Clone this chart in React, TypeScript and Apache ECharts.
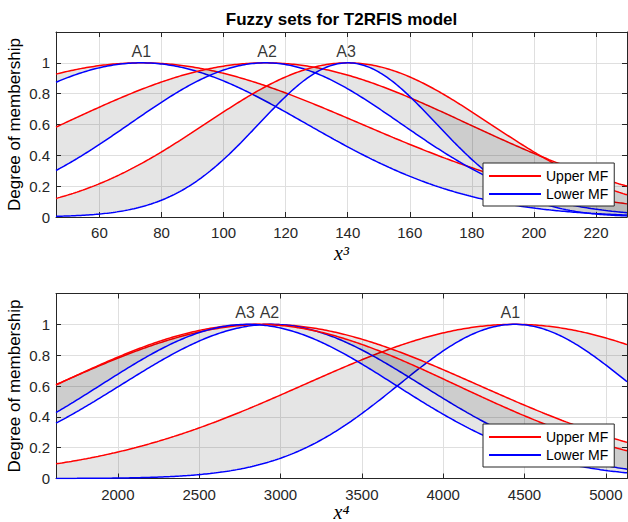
import React, { useEffect, useRef } from 'react';
import * as echarts from 'echarts';

// ---------- data ----------
const setNames = ['A1', 'A2', 'A3'];

// Top panel (x^3): Gaussian MF parameters (centre, sigma)
const topXRange = [46, 230];
const topXTicks = [60, 80, 100, 120, 140, 160, 180, 200, 220];
const topUpperCenter = [73.5, 113.5, 140];
const topUpperSigma = [70.5, 65, 45.7];
const topLowerCenter = [73.5, 113.5, 140];
const topLowerSigma = [53, 43.6, 28.5];
const topLabelX = [73.5, 114, 139.5];

// Bottom panel (x^4)
const botXRange = [1620, 5130];
const botXTicks = [2000, 2500, 3000, 3500, 4000, 4500, 5000];
const botUpperCenter = [4440, 2915, 2850];
const botUpperSigma = [1300, 1300, 1230];
const botLowerCenter = [4440, 2943, 2801];
const botLowerSigma = [715, 924, 906];
const botLabelX = [4413, 2932, 2782];

const yRange = [0, 1.2];

// ---------- styling ----------
const RED = '#ff0000';
const BLUE = '#0000ff';
const AX = '#262626';
const GRIDC = '#dfdfdf';
const FONT = '"Liberation Sans", Arial, Helvetica, sans-serif';
const SERIF = '"Liberation Serif", "DejaVu Serif", serif';
const N = 300;

function gauss(x: number, c: number, s: number) {
  return Math.exp(-((x - c) * (x - c)) / (2 * s * s));
}

function buildPanel(
  gi: number,
  range: number[],
  uc: number[],
  us: number[],
  lc: number[],
  ls: number[],
  labelX: number[]
) {
  const xi = gi * 2;
  const series: any[] = [];
  const xs: number[] = [];
  for (let k = 0; k <= N; k++) xs.push(range[0] + ((range[1] - range[0]) * k) / N);
  setNames.forEach((nm, i) => {
    const upper = xs.map((x) => [x, gauss(x, uc[i], us[i])]);
    const lower = xs.map((x) => [x, gauss(x, lc[i], ls[i])]);
    const z = 2 + i * 3;
    series.push({
      type: 'custom', name: 'band' + gi + nm, xAxisIndex: xi, yAxisIndex: xi,
      silent: true, z, clip: true,
      data: [[uc[i], 1]],
      renderItem: (_p: any, api: any) => {
        const pts: number[][] = [];
        upper.forEach((d) => pts.push(api.coord(d)));
        for (let k = lower.length - 1; k >= 0; k--) pts.push(api.coord(lower[k]));
        return {
          type: 'polygon',
          shape: { points: pts },
          style: { fill: 'rgba(0,0,0,0.1)', stroke: 'none' },
        };
      },
    });
    series.push({
      type: 'line', name: 'Upper MF', xAxisIndex: xi, yAxisIndex: xi,
      data: upper, symbol: 'none', silent: true, z: z + 1, color: RED,
      lineStyle: { color: RED, width: 1.5 },
    });
    series.push({
      type: 'line', name: 'Lower MF', xAxisIndex: xi, yAxisIndex: xi,
      data: lower, symbol: 'none', silent: true, z: z + 1, color: BLUE,
      lineStyle: { color: BLUE, width: 1.5 },
    });
  });
  series.push({
    type: 'scatter', name: 'labels' + gi, xAxisIndex: xi, yAxisIndex: xi,
    symbolSize: 1, z: 20, silent: true,
    itemStyle: { color: 'rgba(0,0,0,0)' },
    data: setNames.map((nm, i) => ({ value: [labelX[i], 1], name: nm })),
    label: {
      show: true, position: 'top', distance: 3, formatter: '{b}',
      fontSize: 16, color: '#000', fontFamily: FONT,
    },
  });
  return series;
}

function axesFor(gi: number, range: number[], ticks: number[]) {
  const xMain = {
    type: 'value', gridIndex: gi, min: range[0], max: range[1], position: 'bottom',
    axisLine: { show: true, onZero: false, lineStyle: { color: AX, width: 1 } },
    axisTick: { show: true, inside: true, length: 5, customValues: ticks, lineStyle: { color: AX } },
    axisLabel: {
      show: true, customValues: ticks, margin: 8, fontSize: 15, color: AX, fontFamily: FONT,
      formatter: (v: number) => String(v),
    },
    splitLine: { show: true, lineStyle: { color: GRIDC, width: 1 } },
  };
  const xBox = {
    type: 'value', gridIndex: gi, min: range[0], max: range[1], position: 'top',
    axisLine: { show: true, onZero: false, lineStyle: { color: AX, width: 1 } },
    axisTick: { show: true, inside: true, length: 5, customValues: ticks, lineStyle: { color: AX } },
    axisLabel: { show: false },
    splitLine: { show: false },
  };
  const yMain = {
    type: 'value', gridIndex: gi, min: yRange[0], max: yRange[1], interval: 0.2, position: 'left',
    axisLine: { show: true, onZero: false, lineStyle: { color: AX, width: 1 } },
    axisTick: { show: true, inside: true, length: 5, lineStyle: { color: AX } },
    axisLabel: {
      show: true, margin: 6, fontSize: 15, color: AX, fontFamily: FONT,
      formatter: (v: number) => (v > 1.05 ? '' : String(Math.round(v * 10) / 10)),
    },
    splitLine: { show: true, lineStyle: { color: GRIDC, width: 1 } },
  };
  const yBox = {
    type: 'value', gridIndex: gi, min: yRange[0], max: yRange[1], interval: 0.2, position: 'right',
    axisLine: { show: true, onZero: false, lineStyle: { color: AX, width: 1 } },
    axisTick: { show: true, inside: true, length: 5, lineStyle: { color: AX } },
    axisLabel: { show: false },
    splitLine: { show: false },
  };
  return { x: [xMain, xBox], y: [yMain, yBox] };
}

function legendAt(top: number) {
  return {
    data: [
      { name: 'Upper MF', icon: 'rect', itemStyle: { color: RED } },
      { name: 'Lower MF', icon: 'rect', itemStyle: { color: BLUE } },
    ],
    orient: 'vertical', left: 483, top,
    padding: [6, 6, 5, 6], itemWidth: 52, itemHeight: 2, itemGap: 4,
    borderColor: AX, borderWidth: 1, backgroundColor: '#ffffff', borderRadius: 0,
    selectedMode: false, z: 50,
    textStyle: { fontSize: 14, lineHeight: 14, color: '#000', fontFamily: FONT },
  };
}

function xName(y: number, text: string) {
  return {
    type: 'text', x: 341.5, y, z: 60,
    style: {
      text, fill: '#000', fontFamily: SERIF, fontStyle: 'italic', fontSize: 20,
      textAlign: 'center', textVerticalAlign: 'middle',
    },
  };
}

function yName(y: number) {
  return {
    type: 'text', x: 14.5, y, rotation: Math.PI / 2, z: 60,
    style: {
      text: 'Degree of membership', fill: '#000', fontSize: 17, fontFamily: FONT,
      textAlign: 'center', textVerticalAlign: 'middle',
    },
  };
}

export default function App() {
  const ref = useRef<HTMLDivElement>(null);
  useEffect(() => {
    if (!ref.current) return;
    const chart = echarts.init(ref.current, undefined, { renderer: 'svg' });
    const a0 = axesFor(0, topXRange, topXTicks);
    const a1 = axesFor(1, botXRange, botXTicks);
    const option: any = {
      animation: false,
      backgroundColor: '#ffffff',
      grid: [
        { left: 56, top: 32, width: 571, height: 185, containLabel: false },
        { left: 56, top: 293.5, width: 571, height: 185, containLabel: false },
      ],
      xAxis: [...a0.x, ...a1.x],
      yAxis: [...a0.y, ...a1.y],
      legend: [legendAt(163), legendAt(424)],
      series: [
        ...buildPanel(0, topXRange, topUpperCenter, topUpperSigma, topLowerCenter, topLowerSigma, topLabelX),
        ...buildPanel(1, botXRange, botUpperCenter, botUpperSigma, botLowerCenter, botLowerSigma, botLabelX),
      ],
      graphic: [
        {
          type: 'text', x: 341.5, y: 19, z: 60,
          style: {
            text: 'Fuzzy sets for T2RFIS model', fill: '#000', fontSize: 17, fontWeight: 'bold',
            fontFamily: FONT, textAlign: 'center', textVerticalAlign: 'middle',
          },
        },
        yName(124.5),
        yName(386),
        xName(253, 'x\u00B3'),
        xName(512, 'x\u2074'),
      ],
    };
    chart.setOption(option);
    return () => chart.dispose();
  }, []);
  return (
    <div
      ref={ref}
      style={{ position: 'fixed', left: 0, top: 0, width: 628, height: 522, background: '#fff' }}
    />
  );
}
